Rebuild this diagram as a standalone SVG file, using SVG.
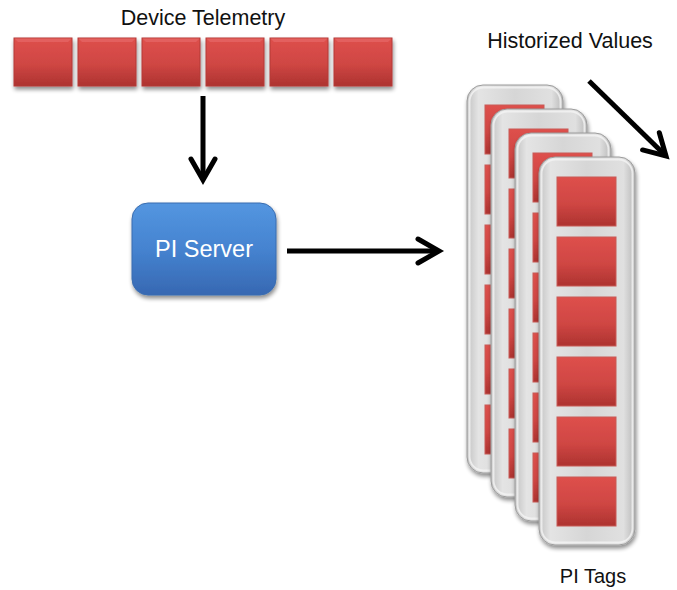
<svg xmlns="http://www.w3.org/2000/svg" width="677" height="590" viewBox="0 0 677 590">
  <defs>
    <linearGradient id="redG" x1="0" y1="0" x2="0" y2="1">
      <stop offset="0" stop-color="#de504c"/>
      <stop offset="0.55" stop-color="#cf4643"/>
      <stop offset="1" stop-color="#ad3330"/>
    </linearGradient>
    <linearGradient id="blueG" x1="0" y1="0" x2="0" y2="1">
      <stop offset="0" stop-color="#5496e0"/>
      <stop offset="0.5" stop-color="#4583d0"/>
      <stop offset="1" stop-color="#3768b2"/>
    </linearGradient>
    <linearGradient id="grayG" x1="0" y1="0" x2="1" y2="0">
      <stop offset="0" stop-color="#c2c2c2"/>
      <stop offset="0.12" stop-color="#e4e4e4"/>
      <stop offset="0.5" stop-color="#d6d6d6"/>
      <stop offset="0.88" stop-color="#e0e0e0"/>
      <stop offset="1" stop-color="#b8b8b8"/>
    </linearGradient>
    <filter id="shadow" x="-20%" y="-20%" width="140%" height="140%">
      <feGaussianBlur in="SourceAlpha" stdDeviation="2"/>
      <feOffset dx="1" dy="3" result="b"/>
      <feComponentTransfer><feFuncA type="linear" slope="0.45"/></feComponentTransfer>
      <feMerge><feMergeNode/><feMergeNode in="SourceGraphic"/></feMerge>
    </filter>
    <marker id="chev" markerUnits="userSpaceOnUse" markerWidth="30" markerHeight="30" refX="0" refY="0" orient="auto" overflow="visible">
      <path d="M -21 -12 L 0 0 L -21 12" fill="none" stroke="#000" stroke-width="5" stroke-linecap="round" stroke-linejoin="miter"/>
    </marker>
    <g id="sq">
      <rect x="0" y="0" width="58" height="48" fill="url(#redG)" stroke="#b33a37" stroke-width="1"/>
      <path d="M0.5 0.5 H57.5 L54 4 H4 Z" fill="#e56a66" opacity="0.7"/>
    </g>
    <g id="card">
      <rect x="0" y="0" width="96" height="388" rx="16" ry="16" fill="url(#grayG)" stroke="#9c9c9c" stroke-width="1"/>
      <rect x="2.5" y="2.5" width="91" height="383" rx="14" ry="14" fill="none" stroke="#f4f4f4" stroke-width="2" opacity="0.8"/>
      <rect x="18" y="20" width="59" height="49" fill="url(#redG)" stroke="#c85a57" stroke-width="1"/>
      <rect x="18" y="80" width="59" height="49" fill="url(#redG)" stroke="#c85a57" stroke-width="1"/>
      <rect x="18" y="140" width="59" height="49" fill="url(#redG)" stroke="#c85a57" stroke-width="1"/>
      <rect x="18" y="200" width="59" height="49" fill="url(#redG)" stroke="#c85a57" stroke-width="1"/>
      <rect x="18" y="260" width="59" height="49" fill="url(#redG)" stroke="#c85a57" stroke-width="1"/>
      <rect x="18" y="320" width="59" height="49" fill="url(#redG)" stroke="#c85a57" stroke-width="1"/>
    </g>
  </defs>
  <style>
    .lbl { font-family: "Liberation Sans", Arial, sans-serif; font-size: 21.5px; fill: #111; text-anchor: middle; }
    .srv { font-family: "Liberation Sans", Arial, sans-serif; font-size: 23.5px; fill: #ffffff; text-anchor: middle; }
    .conn { fill: none; stroke: #000; stroke-width: 5; marker-end: url(#chev); }
  </style>
  <rect width="677" height="590" fill="#ffffff"/>

  <g id="device-telemetry">
    <text class="lbl" x="203" y="25">Device Telemetry</text>
    <g filter="url(#shadow)">
      <use href="#sq" x="14" y="38"/>
      <use href="#sq" x="78" y="38"/>
      <use href="#sq" x="142" y="38"/>
      <use href="#sq" x="206" y="38"/>
      <use href="#sq" x="270" y="38"/>
      <use href="#sq" x="334" y="38"/>
    </g>
  </g>

  <g id="pi-server">
    <rect x="132" y="203" width="144" height="92" rx="16" ry="16" fill="url(#blueG)" stroke="#3a6db0" stroke-width="1" filter="url(#shadow)"/>
    <text class="srv" x="204" y="257">PI Server</text>
  </g>

  <g id="pi-tags">
    <use href="#card" x="467" y="85" filter="url(#shadow)"/>
    <use href="#card" x="491" y="109" filter="url(#shadow)"/>
    <use href="#card" x="515" y="133" filter="url(#shadow)"/>
    <use href="#card" x="539" y="157" filter="url(#shadow)"/>
    <text class="lbl" x="593" y="583" style="font-size:20px">PI Tags</text>
  </g>

  <g id="historized-values">
    <text class="lbl" x="570" y="48">Historized Values</text>
  </g>

  <g id="connectors">
    <path class="conn" d="M203 96 L203 180"/>
    <path class="conn" d="M287 251 L439 251"/>
    <path class="conn" d="M589 81 L666 156"/>
  </g>
</svg>
